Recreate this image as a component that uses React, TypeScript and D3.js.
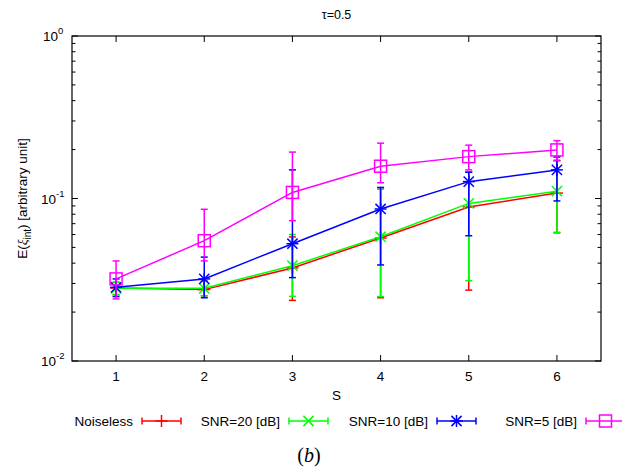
import React from "react";
import * as d3 from "d3";

const S = [1, 2, 3, 4, 5, 6];

const noiseless = [0.0281, 0.0275, 0.0374, 0.0571, 0.0887, 0.108];
const noiselessLow = [0.0256, 0.0252, 0.0236, 0.0245, 0.0273, 0.0615];
const noiselessHigh = [0.0305, 0.031, 0.058, 0.114, 0.146, 0.171];

const snr20 = [0.028, 0.028, 0.0386, 0.0582, 0.0933, 0.111];
const snr20Low = [0.0256, 0.0252, 0.025, 0.0249, 0.0312, 0.062];
const snr20High = [0.0305, 0.031, 0.06, 0.114, 0.146, 0.17];

const snr10 = [0.0284, 0.032, 0.0527, 0.0862, 0.127, 0.15];
const snr10Low = [0.0249, 0.0245, 0.0326, 0.039, 0.059, 0.0966];
const snr10High = [0.032, 0.0436, 0.15, 0.117, 0.145, 0.18];

const snr5 = [0.032, 0.055, 0.109, 0.158, 0.181, 0.199];
const snr5Low = [0.0241, 0.0413, 0.073, 0.125, 0.15, 0.172];
const snr5High = [0.0413, 0.0858, 0.193, 0.219, 0.213, 0.227];

const seriesNames = ["Noiseless", "SNR=20 [dB]", "SNR=10 [dB]", "SNR=5 [dB]"];
const seriesColors = ["#ff0000", "#00ff00", "#0000ff", "#ff00ff"];
const seriesMarkers = ["plus", "cross", "star", "square"];

const xTicks = [1, 2, 3, 4, 5, 6];
const yTickExps = [0, -1, -2];

const W = 622;
const H = 474;
const M = { left: 72, right: 601, top: 36, bottom: 361 };
const FONT = "'Liberation Sans', Arial, sans-serif";

function Marker({ type, x, y, color }: { type: string; x: number; y: number; color: string }) {
  const r = 6;
  const sw = 1.5;
  if (type === "plus") {
    return (
      <g stroke={color} strokeWidth={sw}>
        <line x1={x - r} y1={y} x2={x + r} y2={y} />
        <line x1={x} y1={y - r} x2={x} y2={y + r} />
      </g>
    );
  }
  if (type === "cross") {
    const d = r * 0.85;
    return (
      <g stroke={color} strokeWidth={sw}>
        <line x1={x - d} y1={y - d} x2={x + d} y2={y + d} />
        <line x1={x - d} y1={y + d} x2={x + d} y2={y - d} />
      </g>
    );
  }
  if (type === "star") {
    const d = r * 0.85;
    return (
      <g stroke={color} strokeWidth={sw}>
        <line x1={x - r} y1={y} x2={x + r} y2={y} />
        <line x1={x} y1={y - r} x2={x} y2={y + r} />
        <line x1={x - d} y1={y - d} x2={x + d} y2={y + d} />
        <line x1={x - d} y1={y + d} x2={x + d} y2={y - d} />
      </g>
    );
  }
  return (
    <rect x={x - r} y={y - r} width={2 * r} height={2 * r} fill="none" stroke={color} strokeWidth={sw} />
  );
}

export default function App() {
  const x = d3.scaleLinear().domain([0.5, 6.5]).range([M.left, M.right]);
  const y = d3.scaleLog().domain([0.01, 1]).range([M.bottom, M.top]);

  const series = [
    { vals: noiseless, lo: noiselessLow, hi: noiselessHigh },
    { vals: snr20, lo: snr20Low, hi: snr20High },
    { vals: snr10, lo: snr10Low, hi: snr10High },
    { vals: snr5, lo: snr5Low, hi: snr5High },
  ];

  const line = d3
    .line<number>()
    .x((_, i) => x(S[i]))
    .y((d) => y(d));

  const minorTicks: number[] = [];
  for (const base of [0.01, 0.1]) {
    for (let k = 2; k <= 9; k++) minorTicks.push(base * k);
  }

  const cap = 3.5;
  const legendTextRight = [133, 280, 428, 577];
  const legendY = 421;

  return (
    <svg width={W} height={H} style={{ position: "absolute", left: 0, top: 0 }} fontFamily={FONT}>
      <rect x={0} y={0} width={W} height={H} fill="#fff" />
      {/* title */}
      <text x={(M.left + M.right) / 2} y={19} textAnchor="middle" fontSize={12.5}>
        τ=0.5
      </text>

      {/* ticks */}
      <g stroke="#000" strokeWidth={1}>
        {xTicks.map((t) => (
          <g key={"xt" + t}>
            <line x1={x(t)} x2={x(t)} y1={M.bottom} y2={M.bottom - 6} />
            <line x1={x(t)} x2={x(t)} y1={M.top} y2={M.top + 6} />
          </g>
        ))}
        {yTickExps.map((e) => (
          <g key={"yt" + e}>
            <line x1={M.left} x2={M.left + 6} y1={y(Math.pow(10, e))} y2={y(Math.pow(10, e))} />
            <line x1={M.right} x2={M.right - 6} y1={y(Math.pow(10, e))} y2={y(Math.pow(10, e))} />
          </g>
        ))}
        {minorTicks.map((t, i) => (
          <g key={"ym" + i}>
            <line x1={M.left} x2={M.left + 3.5} y1={y(t)} y2={y(t)} />
            <line x1={M.right} x2={M.right - 3.5} y1={y(t)} y2={y(t)} />
          </g>
        ))}
      </g>

      {/* tick labels */}
      {xTicks.map((t) => (
        <text key={"xl" + t} x={x(t)} y={M.bottom + 20} textAnchor="middle" fontSize={13.5}>
          {t}
        </text>
      ))}
      {yTickExps.map((e) => (
        <text key={"yl" + e} x={e < 0 ? 56 : 58} y={y(Math.pow(10, e)) + 5} textAnchor="end" fontSize={13.5}>
          10
        </text>
      ))}
      {yTickExps.map((e) => (
        <text key={"ye" + e} x={e < 0 ? 56 : 58} y={y(Math.pow(10, e)) - 2} fontSize={9.5}>
          {e === 0 ? "0" : "-" + Math.abs(e)}
        </text>
      ))}

      {/* axis labels */}
      <text x={(M.left + M.right) / 2} y={400} textAnchor="middle" fontSize={13.5}>
        S
      </text>
      <text transform={`translate(27, ${(M.top + M.bottom) / 2}) rotate(-90)`} textAnchor="middle" fontSize={13.5}>
        E(<tspan fontStyle="italic" fontFamily="'Liberation Serif', serif">ξ</tspan>
        <tspan fontSize={10} dy={4}>int</tspan>
        <tspan dy={-4}>) [arbitrary unit]</tspan>
      </text>

      {/* data */}
      {series.map((s, si) => {
        const color = seriesColors[si];
        return (
          <g key={"s" + si}>
            <g stroke={color} strokeWidth={1.5}>
              {S.map((sv, i) => (
                <g key={i}>
                  <line x1={x(sv)} x2={x(sv)} y1={y(s.lo[i])} y2={y(s.hi[i])} />
                  <line x1={x(sv) - cap} x2={x(sv) + cap} y1={y(s.lo[i])} y2={y(s.lo[i])} />
                  <line x1={x(sv) - cap} x2={x(sv) + cap} y1={y(s.hi[i])} y2={y(s.hi[i])} />
                </g>
              ))}
            </g>
            <path d={line(s.vals) || ""} fill="none" stroke={color} strokeWidth={1.5} />
            {S.map((sv, i) => (
              <Marker key={"m" + i} type={seriesMarkers[si]} x={x(sv)} y={y(s.vals[i])} color={color} />
            ))}
          </g>
        );
      })}

      {/* frame */}
      <rect
        x={M.left}
        y={M.top}
        width={M.right - M.left}
        height={M.bottom - M.top}
        fill="none"
        stroke="#000"
        strokeWidth={1.2}
      />

      {/* legend */}
      {seriesNames.map((name, i) => {
        const tr = legendTextRight[i];
        const x1 = tr + 9;
        const x2 = tr + 48;
        const mx = (x1 + x2) / 2;
        const color = seriesColors[i];
        return (
          <g key={"lg" + i}>
            <text x={tr} y={legendY + 5} textAnchor="end" fontSize={13.5}>
              {name}
            </text>
            <g stroke={color} strokeWidth={1.5}>
              <line x1={x1} x2={x2} y1={legendY} y2={legendY} />
              <line x1={x1} x2={x1} y1={legendY - cap} y2={legendY + cap} />
              <line x1={x2} x2={x2} y1={legendY - cap} y2={legendY + cap} />
            </g>
            <Marker type={seriesMarkers[i]} x={mx} y={legendY} color={color} />
          </g>
        );
      })}

      {/* caption */}
      <text x={309} y={462} textAnchor="middle" fontSize={20} fontFamily="'Liberation Serif', serif">
        (<tspan fontStyle="italic">b</tspan>)
      </text>
    </svg>
  );
}
